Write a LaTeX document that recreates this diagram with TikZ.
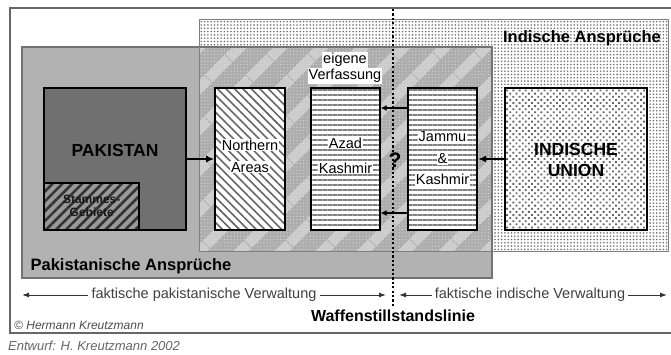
\documentclass[tikz,border=0pt]{standalone}
\usepackage{fontspec}
\setmainfont{Liberation Sans}
\usetikzlibrary{patterns.meta,arrows.meta}
\newcommand\wbox[1]{{\setlength\fboxsep{1pt}\colorbox{white}{#1}}}
\begin{document}
\begin{tikzpicture}[x=1pt,y=-1pt,
  framec/.style={draw=black!60,line width=1.8pt},
  terrbox/.style={draw=black,line width=2.2pt,inner sep=0pt,minimum height=142pt},
  lbl/.style={align=center,inner sep=0pt,font=\fontsize{14.5}{22}\selectfont},
  biglbl/.style={align=center,inner sep=0pt,font=\fontsize{17.5}{21}\selectfont\bfseries},
  claimlbl/.style={inner sep=0pt,font=\fontsize{16.5}{20}\selectfont\bfseries},
  admlbl/.style={inner sep=3pt,font=\fontsize{14.5}{18}\selectfont,text=black!75},
  arr/.style={-{Latex[length=8pt,width=7pt]},line width=1.6pt},
  smallarr/.style={-{Latex[length=6pt,width=6pt]},line width=1.6pt},
  thinarr/.style={-{Latex[length=7pt,width=5pt]},line width=1pt,draw=black!80}
]
\useasboundingbox (0,0) rectangle (671,355);
\fill[white] (0,0) rectangle (671,355);

% outer frame
\draw[framec] (671,8) -- (10,8) -- (10,333) -- (671,333);

% Indian claims
\fill[white] (199,20) rectangle (668,251);
\fill[pattern={Dots[distance=3.3pt,radius=0.9pt]},pattern color=black!55] (199,20) rectangle (668,251);
% Pakistani claims
\fill[black!30] (22,47) rectangle (492,278);
% overlap
\fill[black!32] (199,47) rectangle (492,251);
\fill[pattern={Lines[angle=45,distance=30pt,line width=11pt]},pattern color=black!20] (199,47) rectangle (492,251);
\fill[pattern={Dots[distance=3.3pt,radius=0.6pt]},pattern color=white!85!black] (199,47) rectangle (492,251);
% borders
\draw[black!55,line width=1.2pt] (22,47) rectangle (492,278);
\draw[black!50,line width=1pt] (199,20) rectangle (668,251);

\node[claimlbl] (indclaim) at (582,38) {Indische Anspr\"uche};
\node[claimlbl] (pakclaim) at (131,266) {Pakistanische Anspr\"uche};

\node[lbl,font=\fontsize{14.5}{16}\selectfont] (verf) at (345,68) {\wbox{eigene}\\\wbox{Verfassung}};

% ceasefire line
\coordinate (cltop) at (393,9);
\coordinate (clbot) at (393,306);
\draw[line width=2.2pt,dash pattern=on 2.2pt off 2.2pt] (cltop) -- (clbot);

% territories
\node[terrbox,fill=black!56,minimum width=142pt] (pak) at (115,159) {};
\node[draw=black,line width=2pt,inner sep=0pt,minimum width=95pt,minimum height=47pt,anchor=south west,
      preaction={fill=black!40},pattern={Lines[angle=45,distance=7pt,line width=2.6pt]},pattern color=black!80] (stamm) at (pak.south west) {};
\node[terrbox,minimum width=70pt,preaction={fill=white},pattern={Lines[angle=-45,distance=6pt,line width=1.6pt]},pattern color=black!60] (na) at (250,159) {};
\node[terrbox,minimum width=69pt,preaction={fill=white},pattern={Lines[angle=0,distance=5pt,line width=1.3pt]},pattern color=black!50] (ak) at (345.5,159) {};
\node[terrbox,minimum width=69pt,preaction={fill=white},pattern={Lines[angle=0,distance=5pt,line width=1.3pt]},pattern color=black!50] (jk) at (442.5,159) {};
\node[terrbox,minimum width=142pt,preaction={fill=white},pattern={Dots[distance=4.4pt,radius=1.3pt,angle=45]},pattern color=black!60] (iu) at (576,159) {};

% labels in territories
\node[biglbl] (pakl) at (115,150) {PAKISTAN};
\node[align=center,inner sep=0pt,font=\fontsize{12}{13}\selectfont\bfseries,text=black!90] (stamml) at (stamm.center) {Stammes-\\Gebiete};
\node[lbl] (nal) at (250,156) {\wbox{Northern}\\\wbox{Areas}};
\node[lbl,font=\fontsize{14.5}{25}\selectfont] (akl) at (345.5,155.5) {\wbox{Azad}\\\wbox{Kashmir}};
\node[lbl,font=\fontsize{14.5}{21.5}\selectfont] (jkl) at (442.5,158.5) {\wbox{Jammu}\\\wbox{\&}\\\wbox{Kashmir}};
\node[biglbl] (iul) at (576,160) {INDISCHE\\UNION};
\node[inner sep=0pt,font=\fontsize{21}{24}\selectfont\bfseries] (q) at (395,160) {?};

% arrows
\draw[arr] (pak.east) -- (na.west);
\draw[arr] (iu.west) -- (jk.east);
\draw[smallarr] ([yshift=51pt]jk.west) -- ([yshift=51pt]ak.east);
\draw[smallarr] ([yshift=-54pt]jk.west) -- ([yshift=-54pt]ak.east);

% administration
\node[admlbl] (pv) at (204,295) {faktische pakistanische Verwaltung};
\coordinate (pvl) at (22,295);
\coordinate (pvr) at (386,295);
\draw[thinarr] (pv.west) -- (pvl);
\draw[thinarr] (pv.east) -- (pvr);
\node[admlbl] (iv) at (530,295) {faktische indische Verwaltung};
\coordinate (ivl) at (399,295);
\coordinate (ivr) at (667,295);
\draw[thinarr] (iv.west) -- (ivl);
\draw[thinarr] (iv.east) -- (ivr);

\node[claimlbl,font=\fontsize{16}{19}\selectfont\bfseries] (wsl) at (393,316) {Waffenstillstandslinie};
\node[anchor=west,inner sep=0pt,font=\fontsize{12}{14}\selectfont\itshape,text=black!70] (copy) at (14,325) {\textcopyright{} Hermann Kreutzmann};
\node[anchor=west,inner sep=0pt,font=\fontsize{13}{15}\selectfont\itshape,text=black!60] (entw) at (8,346) {Entwurf: H. Kreutzmann 2002};
\end{tikzpicture}
\end{document}
